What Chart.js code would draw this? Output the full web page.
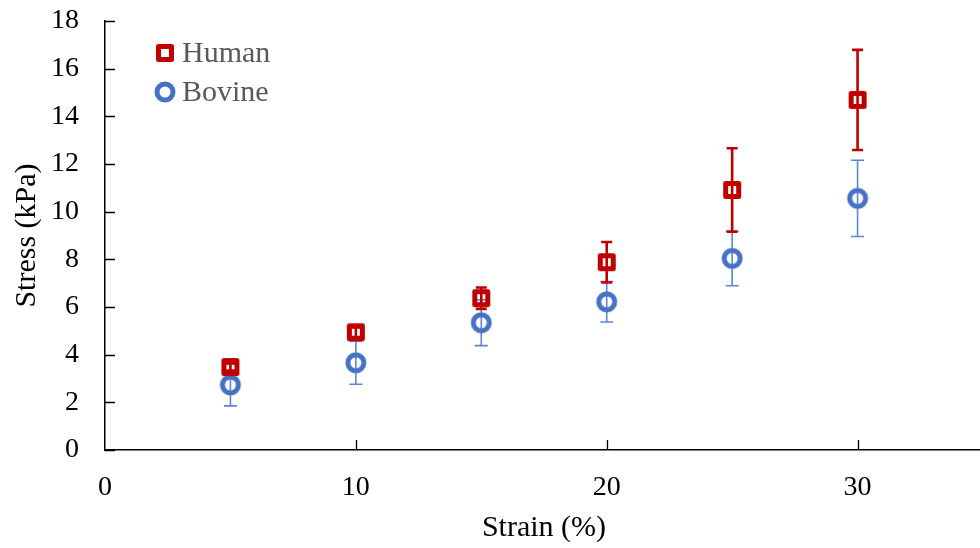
<!DOCTYPE html>
<html>
<head>
<meta charset="utf-8">
<script src="https://cdn.jsdelivr.net/npm/chart.js@4.4.1/dist/chart.umd.min.js"></script>
<style>
  html, body { margin: 0; padding: 0; background: #fff; overflow: hidden; }
  #wrap { width: 992px; height: 548px; }
</style>
</head>
<body>
<div id="wrap"><canvas id="stressChart" width="992" height="548"></canvas></div>
<script>
// strain (%) and mean stress (kPa) with +/- error for each tissue
const strain = [5, 10, 15, 20, 25, 30];
const humanStress = [3.48, 4.94, 6.37, 7.88, 10.91, 14.69];
const humanErr = [0.15, 0.2, 0.45, 0.85, 1.75, 2.1];
const bovineStress = [2.73, 3.66, 5.34, 6.22, 8.04, 10.56];
const bovineErr = [0.88, 0.9, 0.96, 0.85, 1.15, 1.6];
const xTicks = [0, 10, 20, 30];
const yTicks = [0, 2, 4, 6, 8, 10, 12, 14, 16, 18];

const RED = '#c00000';
const BLUE = '#4472c4';
const SERIF = '"Liberation Serif", "Times New Roman", serif';

// hollow marker images (round joins like the office-style markers)
function squareMarker(color) {
    const c = document.createElement('canvas');
    c.width = 20; c.height = 20;
    const g = c.getContext('2d');
    g.strokeStyle = color;
    g.lineWidth = 5;
    g.lineJoin = 'round';
    g.strokeRect(3.5, 3.5, 13, 13);
    return c;
}

function circleMarker(color) {
    const c = document.createElement('canvas');
    c.width = 24; c.height = 24;
    const g = c.getContext('2d');
    g.strokeStyle = color;
    g.lineWidth = 5;
    g.beginPath();
    g.arc(12, 12, 8, 0, Math.PI * 2);
    g.stroke();
    return c;
}

function points(ys) {
    return strain.map((s, i) => ({ x: s, y: ys[i] }));
}

const errorBars = {
    id: 'errorBars',
    beforeDatasetsDraw(chart) {
        const { ctx, scales: { x, y } } = chart;
        ctx.save();
        chart.data.datasets.slice().reverse().forEach(ds => {
            ctx.strokeStyle = ds.errorColor;
            ctx.lineWidth = ds.errorWidth;
            ds.data.forEach((p, i) => {
                const e = ds.errors[i];
                const px = x.getPixelForValue(p.x);
                const top = y.getPixelForValue(p.y + e);
                const bot = y.getPixelForValue(p.y - e);
                const w = ds.capWidth / 2;
                ctx.beginPath();
                ctx.moveTo(px, top); ctx.lineTo(px, bot);
                ctx.moveTo(px - w, top); ctx.lineTo(px + w, top);
                ctx.moveTo(px - w, bot); ctx.lineTo(px + w, bot);
                ctx.stroke();
            });
        });
        ctx.restore();
    }
};

const inwardTicks = {
    id: 'inwardTicks',
    afterDatasetsDraw(chart) {
        const { ctx, chartArea, scales: { x, y } } = chart;
        ctx.save();
        ctx.strokeStyle = '#000';
        ctx.lineWidth = 1.3;
        ctx.beginPath();
        y.ticks.forEach(t => {
            const py = Math.round(y.getPixelForValue(t.value)) + 0.5;
            ctx.moveTo(chartArea.left, py);
            ctx.lineTo(chartArea.left + 10, py);
        });
        x.ticks.forEach(t => {
            if (t.value === 0) return;
            const px = Math.round(x.getPixelForValue(t.value)) + 0.5;
            ctx.moveTo(px, chartArea.bottom);
            ctx.lineTo(px, chartArea.bottom - 10);
        });
        ctx.stroke();
        ctx.restore();
    }
};

const insideLegend = {
    id: 'insideLegend',
    afterDraw(chart) {
        const { ctx, chartArea } = chart;
        ctx.save();
        ctx.font = '30px ' + SERIF;
        ctx.fillStyle = '#595959';
        ctx.textBaseline = 'middle';
        chart.data.datasets.forEach((ds, i) => {
            const cx = 165;
            const cy = chartArea.top + 32 + i * 39;
            const img = ds.pointStyle;
            ctx.drawImage(img, cx - img.width / 2, cy - img.height / 2);
            ctx.fillText(ds.label, cx + 17, cy + 1);
        });
        ctx.restore();
    }
};

new Chart(document.getElementById('stressChart'), {
    type: 'scatter',
    data: {
        datasets: [{
            label: 'Human',
            data: points(humanStress),
            errors: humanErr,
            errorColor: RED,
            errorWidth: 2.6,
            capWidth: 11,
            pointStyle: squareMarker(RED),
            pointRadius: 8
        }, {
            label: 'Bovine',
            data: points(bovineStress),
            errors: bovineErr,
            errorColor: '#5b87d2',
            errorWidth: 1.6,
            capWidth: 13,
            pointStyle: circleMarker(BLUE),
            pointRadius: 8
        }]
    },
    options: {
        responsive: false,
        animation: false,
        layout: { padding: { top: 21, right: 5, left: 0, bottom: 0 } },
        plugins: {
            legend: { display: false },
            tooltip: { enabled: false }
        },
        scales: {
            x: {
                type: 'linear',
                min: 0,
                max: 35,
                afterBuildTicks: s => { s.ticks = xTicks.map(v => ({ value: v })); },
                afterFit: s => {
                    s.height = 98;
                    s.paddingLeft = 0;
                    s.paddingRight = 0;
                },
                grid: { display: false, drawTicks: false },
                border: { display: true, color: '#000', width: 1.5 },
                ticks: {
                    padding: 21,
                    color: '#000',
                    font: { family: SERIF, size: 28 }
                },
                title: {
                    display: true,
                    text: 'Strain (%)',
                    color: '#000',
                    font: { family: SERIF, size: 30 },
                    padding: { top: 0, bottom: 2 }
                }
            },
            y: {
                min: 0,
                max: 18,
                afterBuildTicks: s => { s.ticks = yTicks.map(v => ({ value: v })); },
                afterFit: s => {
                    s.width = 105;
                    s.paddingTop = 0;
                    s.paddingBottom = 0;
                },
                grid: { display: false, drawTicks: false },
                border: { display: true, color: '#000', width: 1.5 },
                ticks: {
                    padding: 26,
                    color: '#000',
                    font: { family: SERIF, size: 28 }
                },
                title: {
                    display: true,
                    text: 'Stress (kPa)',
                    color: '#000',
                    font: { family: SERIF, size: 30 },
                    padding: { top: 9, bottom: 0 }
                }
            }
        }
    },
    plugins: [errorBars, inwardTicks, insideLegend]
});
</script>
</body>
</html>
